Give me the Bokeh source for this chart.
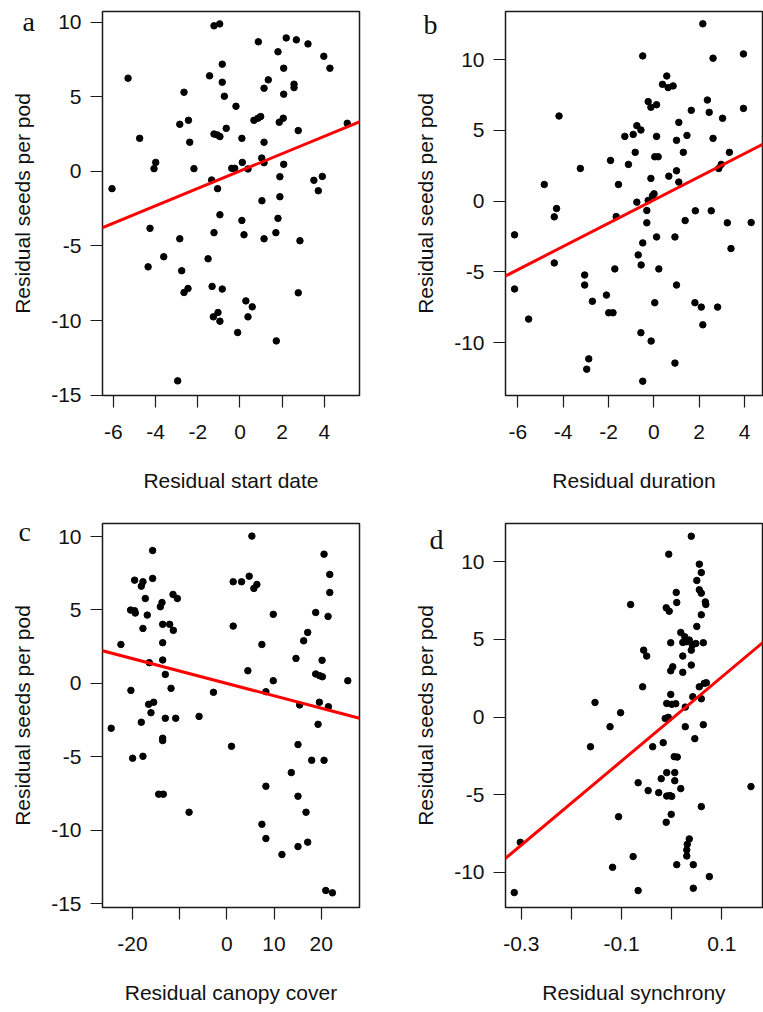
from bokeh.plotting import figure
from bokeh.layouts import column, row
from bokeh.models import Range1d, FixedTicker, Slope, Label
from bokeh.embed import file_html
from bokeh.resources import INLINE

# ---------------------------------------------------------------- data
Y_TITLE = "Residual seeds per pod"

# a: start date
start_x = [-1.23, -0.96, 0.87, 2.19, 2.67, 3.22, 1.80, 3.97, 4.26, 2.07,
           -0.84, -5.30, -1.44, -0.84, 1.34, 1.14, 2.56, 2.56, 2.07, -2.65,
           -0.74, -0.19, -2.85, -2.44, 0.66, 0.85, 0.98, 1.86, 2.05, -0.65,
           -1.23, -1.07, -0.95, 2.76, -4.75, 0.09, -2.38, 1.14, 5.08, -3.99,
           -4.07, -2.18, -0.39, -0.25, 0.11, 0.38, 1.03, 1.14, 2.07, 1.89,
           -6.06, -1.34, -1.06, 3.50, 3.90, 3.71, 1.04, 1.89, -0.95, 0.09,
           1.80, -4.26, -2.85, -1.23, 0.19, 1.14, 1.70, 2.84, -3.61, -4.35,
           -1.51, -2.76, -2.65, -2.46, -1.32, -0.84, 2.76, 0.28, 0.58, 0.38,
           -1.26, -1.04, -0.95, -0.11, 1.72, -2.95]
start_y = [9.75, 9.88, 8.68, 8.94, 8.81, 8.54, 8.01, 7.71, 6.91, 6.91,
           7.18, 6.24, 6.40, 5.97, 6.13, 5.57, 5.84, 5.61, 5.17, 5.30,
           5.03, 4.36, 3.15, 3.42, 3.42, 3.56, 3.67, 3.29, 3.56, 2.88,
           2.50, 2.44, 2.33, 2.73, 2.21, 2.21, 1.95, 1.95, 3.22, 0.60,
           0.18, 0.18, 0.20, 0.20, 0.60, 0.16, 0.89, 0.58, 0.47, -0.36,
           -1.16, -0.58, -1.16, -0.60, -0.34, -1.30, -1.97, -1.70, -2.91, -3.29,
           -3.15, -3.82, -4.52, -4.11, -4.25, -4.52, -4.11, -4.65, -5.72, -6.40,
           -5.86, -6.66, -8.12, -7.85, -7.71, -7.89, -8.14, -8.68, -9.08, -9.75,
           -9.75, -9.46, -10.04, -10.80, -11.36, -14.04]

# b: duration
duration_x = [2.16, -0.49, 2.61, 3.95, 0.57, 0.38, 0.63, 0.85, 2.36, -0.25,
              -0.13, 0.12, 1.65, 2.44, 3.03, 3.95, -4.18, 1.10, -0.75, -0.57,
              -1.28, -0.91, 0.12, 1.00, 1.46, 2.61, -0.82, 0.04, 0.19, 1.30,
              3.33, -1.91, -1.12, -3.24, 2.86, 2.97, 1.00, 0.66, 1.10, -0.13,
              -4.83, -1.56, -4.29, -4.39, -0.75, -0.25, -0.06, 0.01, -0.31, 1.83,
              2.53, -1.66, -0.31, 1.38, 3.24, 4.29, -6.14, 0.12, 0.93, -0.49,
              3.40, -0.69, -0.56, -4.39, -1.72, 0.22, -3.05, -3.05, -6.14, 1.00,
              -2.09, -2.71, 0.04, -1.99, -1.80, 1.81, 2.09, 2.81, 2.16, -5.52,
              -0.57, -0.12, -2.87, -2.96, 0.93, -0.49]
duration_y = [12.54, 10.27, 10.11, 10.41, 8.85, 8.26, 8.03, 8.15, 7.15, 7.04,
              6.64, 6.82, 6.42, 6.28, 5.86, 6.56, 6.02, 5.57, 5.34, 5.03,
              4.58, 4.72, 4.58, 4.30, 4.65, 4.44, 3.45, 3.14, 3.14, 3.45,
              3.45, 2.88, 2.60, 2.31, 2.31, 2.60, 2.15, 1.77, 1.35, 1.61,
              1.18, 1.18, -0.52, -1.11, -0.07, 0.05, 0.38, 0.52, -0.66, -0.68,
              -0.68, -1.09, -1.53, -1.37, -1.53, -1.51, -2.38, -2.53, -2.53, -2.95,
              -3.35, -3.80, -4.51, -4.37, -4.79, -4.79, -5.22, -5.93, -6.21, -5.93,
              -6.64, -7.08, -7.18, -7.89, -7.89, -7.18, -7.49, -7.49, -8.74, -8.34,
              -9.30, -9.89, -11.15, -11.88, -11.45, -12.73]

# c: canopy cover
canopy_x = [5.31, -15.72, 20.60, 21.81, -19.54, -17.77, -18.12, -15.72, 1.35, 3.12,
            4.74, 6.37, 5.73, 21.81, -11.40, -10.48, -17.27, -13.73, -14.09, -20.39,
            -19.54, -19.40, -16.85, 9.84, 18.83, 21.45, -13.59, -12.11, -11.33, -17.77,
            1.35, 17.13, 16.28, -22.44, -13.59, 7.43, 14.65, 20.18, -16.42, -13.59,
            -13.03, 4.46, 18.83, 19.68, 20.25, 9.84, 25.63, -20.32, -11.82, -2.83,
            8.28, -16.57, -15.50, 15.43, 19.61, 21.52, -16.07, -18.12, -13.03, -10.83,
            -5.88, 19.33, -24.50, -13.59, -13.59, 0.99, 15.08, -19.96, -17.77, 17.98,
            20.60, 13.66, 8.28, -14.44, -13.45, 15.08, -8.00, 16.78, 7.43, 8.28,
            15.08, 17.13, 11.68, 20.96, 22.37]
canopy_y = [10.03, 9.05, 8.80, 7.42, 7.03, 6.92, 6.62, 7.15, 6.92, 6.92,
            7.30, 6.74, 6.47, 6.19, 6.06, 5.78, 5.78, 5.51, 5.22, 4.99,
            4.95, 4.79, 4.65, 4.70, 4.83, 4.56, 4.02, 4.02, 3.61, 3.74,
            3.90, 3.47, 2.90, 2.65, 2.77, 2.65, 1.70, 1.57, 1.41, 1.59,
            0.61, 0.86, 0.64, 0.52, 0.45, 0.18, 0.18, -0.48, -0.34, -0.61,
            -0.57, -1.43, -1.29, -1.47, -1.29, -1.59, -2.00, -2.65, -2.38, -2.38,
            -2.25, -2.79, -3.06, -3.74, -3.90, -4.29, -4.17, -5.10, -4.97, -5.24,
            -5.24, -6.08, -7.01, -7.55, -7.55, -7.69, -8.78, -8.78, -9.60, -10.57,
            -11.12, -10.82, -11.66, -14.11, -14.27]

# d: synchrony
sync_x = [0.039, -0.006, 0.055, 0.059, 0.050, 0.055, 0.059, 0.009, 0.010, 0.067,
          0.068, -0.082, -0.011, -0.005, 0.059, 0.050, 0.018, 0.026, 0.035, 0.041,
          0.048, -0.002, 0.022, 0.029, 0.063, -0.056, -0.050, 0.022, 0.039, 0.002,
          -0.002, 0.039, 0.022, -0.058, 0.055, 0.065, 0.069, 0.059, 0.042, -0.002,
          -0.010, 0.000, 0.008, 0.027, -0.153, -0.102, -0.013, -0.007, -0.123, 0.027,
          0.063, 0.046, -0.162, -0.038, -0.017, 0.005, 0.011, -0.021, -0.010, 0.006,
          0.006, -0.067, -0.047, -0.026, 0.018, -0.010, -0.004, 0.000, 0.158, 0.059,
          -0.106, -0.001, -0.011, 0.035, 0.031, 0.030, 0.030, -0.302, -0.077, -0.118,
          0.010, 0.043, 0.075, -0.314, -0.067, 0.043]
sync_y = [11.65, 10.49, 9.85, 9.31, 8.80, 8.20, 7.98, 8.03, 7.38, 7.42,
          7.25, 7.25, 7.04, 6.82, 6.59, 5.84, 5.45, 5.17, 4.96, 4.64,
          4.74, 4.79, 4.81, 4.85, 4.79, 4.31, 3.93, 3.93, 4.31, 3.24,
          2.98, 3.35, 2.88, 1.95, 1.95, 2.17, 2.21, 1.18, 1.31, 1.46,
          0.88, 0.82, 0.86, 0.64, 0.94, 0.28, -0.09, -0.02, -0.62, -0.62,
          -0.49, -1.39, -1.91, -1.91, -1.65, -2.55, -2.58, -3.97, -3.58, -3.58,
          -4.10, -4.23, -4.74, -4.87, -4.61, -5.09, -5.06, -5.11, -4.48, -5.77,
          -6.42, -6.27, -6.78, -7.85, -8.20, -8.56, -8.95, -8.07, -8.99, -9.68,
          -9.51, -9.51, -10.28, -11.31, -11.18, -11.03]

# fitted regression lines (slope, intercept) for a, b, c, d
fit_slope = [0.584, 0.821, -0.0845, 27.1]
fit_intercept = [0.02, 0.08, -0.005, -0.12]

# axis ticks and their labels ("" = tick drawn without a label)
start_ticks = [-6, -4, -2, 0, 2, 4]
start_labels = ["-6", "-4", "-2", "0", "2", "4"]
duration_ticks = [-6, -4, -2, 0, 2, 4]
duration_labels = ["-6", "-4", "-2", "0", "2", "4"]
canopy_ticks = [-20, -10, 0, 10, 20]
canopy_labels = ["-20", "", "0", "10", "20"]
sync_ticks = [-0.3, -0.2, -0.1, 0.0, 0.1]
sync_labels = ["-0.3", "", "-0.1", "", "0.1"]
y_ticks_15 = [-15, -10, -5, 0, 5, 10]
y_ticks_10 = [-10, -5, 0, 5, 10]

FONT = "Liberation Sans"
FS = "21px"
FRAME_W, FRAME_H = 257, 384


def panel(xs, ys, k, xr, yr, xticks, xlabels, yticks, xtitle, letter,
          letter_off, letter_side, left, right, top):
    p = figure(frame_width=FRAME_W, frame_height=FRAME_H,
               x_range=Range1d(*xr), y_range=Range1d(*yr),
               min_border_left=left, min_border_right=right,
               min_border_top=top, min_border_bottom=105,
               output_backend="svg", toolbar_location=None,
               background_fill_color="white", border_fill_color="white")
    p.grid.visible = False
    p.outline_line_color = "#1a1a1a"
    p.outline_line_width = 1.5

    p.xaxis.ticker = FixedTicker(ticks=xticks)
    p.xaxis.major_label_overrides = dict(zip(xticks, xlabels))
    p.yaxis.ticker = FixedTicker(ticks=yticks)
    p.yaxis.major_label_overrides = {t: str(t) for t in yticks}

    for ax in (p.xaxis[0], p.yaxis[0]):
        ax.axis_line_color = None
        ax.major_tick_out = 12
        ax.major_tick_in = 0
        ax.major_tick_line_color = "#1a1a1a"
        ax.major_tick_line_width = 1.2
        ax.minor_tick_line_color = None
        ax.major_label_text_font = FONT
        ax.major_label_text_font_size = FS
        ax.major_label_text_color = "#111111"
        ax.axis_label_text_font = FONT
        ax.axis_label_text_font_size = FS
        ax.axis_label_text_font_style = "normal"
        ax.axis_label_text_color = "#111111"
    p.xaxis.axis_label = xtitle
    p.yaxis.axis_label = Y_TITLE
    p.xaxis.major_label_standoff = 17
    p.xaxis.axis_label_standoff = 27
    p.yaxis.major_label_standoff = 9
    p.yaxis.axis_label_standoff = 14

    p.add_layout(Slope(gradient=fit_slope[k], y_intercept=fit_intercept[k],
                       line_color="#ff0000", line_width=3))
    p.scatter(xs, ys, size=6.5, color="black")

    # panel letter left of the frame; it lives in a side panel so that it is
    # not clipped to the frame, but is positioned through the panel's ranges
    lx = xr[0] + letter_off[0] * (xr[1] - xr[0]) / FRAME_W
    ly = yr[0] + letter_off[1] * (yr[1] - yr[0]) / FRAME_H
    p.add_layout(Label(x=lx, y=ly, text=letter,
                       text_font="Liberation Serif", text_font_size="28px",
                       text_color="#111111", text_align="left",
                       text_baseline="alphabetic"), letter_side)
    return p


pa = panel(start_x, start_y, 0, (-6.51, 5.66), (-15.02, 10.71),
           start_ticks, start_labels, y_ticks_15, "Residual start date",
           "a", (-80, 374), "right", 102, 23, 11)
pb = panel(duration_x, duration_y, 1, (-6.54, 4.79), (-13.74, 13.41),
           duration_ticks, duration_labels, y_ticks_10, "Residual duration",
           "b", (-82, 371), "left", 123, 1, 11)
pc = panel(canopy_x, canopy_y, 2, (-26.34, 28.11), (-15.27, 10.89),
           canopy_ticks, canopy_labels, y_ticks_15, "Residual canopy cover",
           "c", (-84, 376), "right", 102, 23, 23)
pd = panel(sync_x, sync_y, 3, (-0.3315, 0.181), (-12.27, 12.47),
           sync_ticks, sync_labels, y_ticks_10, "Residual synchrony",
           "d", (-76, 368), "left", 123, 1, 23)

layout = column(row(pa, pb), row(pc, pd))
open("out.html", "w").write(file_html(layout, INLINE))
